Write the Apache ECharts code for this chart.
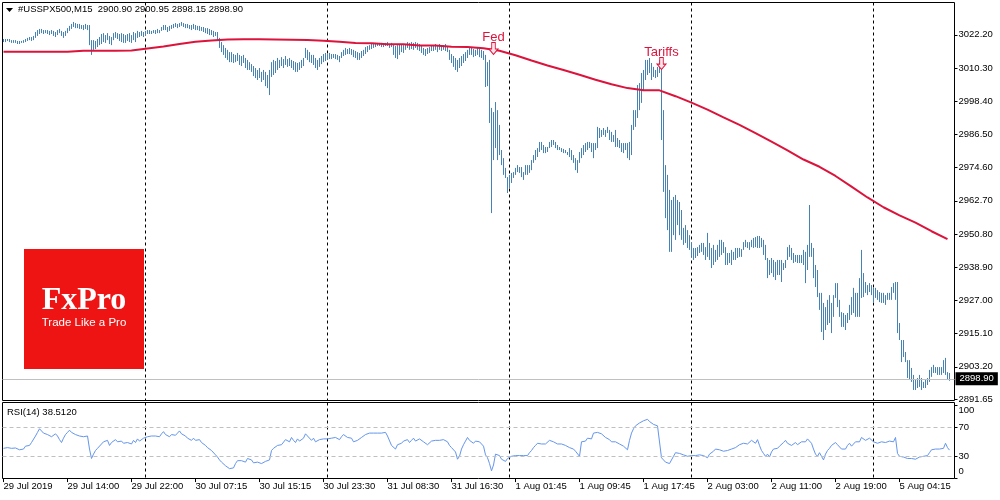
<!DOCTYPE html>
<html>
<head>
<meta charset="utf-8">
<title>#USSPX500,M15</title>
<script src="https://cdn.jsdelivr.net/npm/echarts/dist/echarts.min.js"></script>
<style>
    html, body { margin: 0; padding: 0; background: #fff; }
    #main { width: 1000px; height: 500px; }
</style>
</head>
<body>
<div id="main"></div>
<script>
// M15 bars, 29 Jul 2019 -> 5 Aug 2019 (high / low of each bar)
var highs = [
    3020.7,3020.7,3020.7,3020.7,3020.3,3020.3,3020.3,3020.0,3020.0,3020.0,
    3020.3,3020.7,3021.1,3021.4,3021.4,3021.8,3023.2,3023.9,3024.3,3024.3,
    3023.9,3023.9,3023.9,3023.6,3023.9,3023.6,3023.2,3023.9,3024.3,3023.6,
    3023.2,3023.6,3024.6,3025.4,3026.1,3026.8,3026.4,3026.1,3026.1,3025.7,
    3025.7,3026.1,3025.7,3025.7,3020.3,3020.3,3020.0,3020.7,3021.4,3022.5,
    3022.8,3022.1,3022.8,3021.8,3021.4,3022.8,3023.2,3022.8,3022.5,3022.8,
    3022.5,3022.1,3022.5,3022.8,3022.1,3023.2,3022.8,3023.6,3023.2,3023.6,
    3023.2,3023.6,3023.9,3023.9,3023.6,3023.9,3023.9,3024.3,3023.9,3025.0,
    3025.7,3025.7,3025.0,3025.4,3025.7,3026.1,3026.4,3026.1,3026.4,3026.8,
    3026.4,3026.1,3026.1,3025.7,3025.7,3026.1,3025.7,3025.4,3025.4,3025.0,
    3025.0,3024.6,3024.6,3024.3,3023.9,3023.6,3023.2,3023.2,3021.1,3019.6,
    3018.5,3017.5,3016.8,3016.0,3016.0,3015.3,3015.0,3015.7,3015.0,3014.6,
    3015.0,3013.9,3013.2,3012.4,3011.7,3011.0,3010.3,3009.6,3010.3,3008.9,
    3009.6,3008.9,3007.8,3009.6,3012.4,3013.2,3012.8,3013.9,3013.2,3014.2,
    3013.5,3014.6,3013.5,3013.9,3013.2,3012.8,3012.4,3012.1,3012.4,3013.2,
    3013.9,3017.5,3016.8,3016.0,3015.0,3015.0,3013.9,3013.2,3013.9,3014.6,
    3015.3,3015.7,3015.3,3015.7,3015.3,3015.3,3015.3,3015.0,3014.6,3016.0,
    3016.8,3017.5,3017.1,3017.5,3017.1,3016.8,3016.4,3016.0,3015.7,3016.4,
    3016.8,3017.8,3018.2,3018.5,3018.9,3019.3,3019.3,3019.3,3019.3,3019.3,
    3018.9,3019.3,3019.6,3018.9,3019.3,3018.9,3018.2,3018.5,3018.9,3018.9,
    3018.5,3018.9,3019.6,3019.3,3019.6,3019.3,3019.6,3019.3,3018.9,3018.2,
    3017.5,3017.1,3017.5,3017.8,3018.5,3018.5,3018.9,3018.5,3018.9,3018.5,
    3018.5,3018.9,3018.2,3016.8,3015.3,3014.6,3013.9,3013.2,3013.9,3014.6,
    3015.3,3016.0,3016.8,3017.8,3017.5,3017.1,3016.8,3017.5,3017.1,3016.8,
    3016.4,3015.0,3012.4,3013.2,2996.0,2994.5,2998.1,2995.2,2989.9,2980.9,
    2978.0,2974.5,2971.2,2972.0,2972.7,2973.0,2974.5,2975.5,2974.8,2974.8,
    2973.0,2975.5,2975.5,2975.5,2977.3,2979.1,2980.9,2981.6,2983.8,2983.8,
    2982.7,2982.0,2982.0,2983.8,2984.5,2984.5,2983.8,2982.7,2982.0,2981.6,
    2981.3,2980.9,2980.2,2981.6,2980.9,2979.1,2978.0,2977.3,2980.2,2981.6,
    2982.7,2983.4,2983.8,2983.8,2983.4,2983.4,2983.4,2989.2,2988.8,2988.1,
    2988.8,2988.1,2989.2,2988.1,2987.4,2986.3,2988.1,2985.2,2984.5,2983.4,
    2983.4,2983.4,2983.4,2983.8,2989.9,2995.2,2995.2,3004.2,3004.9,3008.5,
    3009.6,3013.2,3013.2,3013.9,3012.1,3010.7,3009.6,3010.7,3013.2,3010.7,
    2995.2,2975.5,2972.0,2966.6,2963.0,2964.1,2964.8,2963.0,2962.3,2959.4,
    2953.0,2954.0,2952.2,2950.4,2947.6,2945.8,2945.8,2946.1,2946.9,2947.6,
    2947.6,2946.1,2951.2,2947.6,2945.8,2946.9,2945.1,2946.9,2948.7,2948.7,
    2947.9,2946.1,2944.0,2944.0,2945.1,2944.4,2945.8,2945.8,2945.8,2945.4,
    2947.9,2948.7,2947.9,2947.9,2948.7,2949.4,2949.7,2950.1,2950.1,2949.4,
    2948.7,2946.9,2942.2,2941.5,2942.2,2941.5,2940.8,2941.5,2941.5,2941.5,
    2940.4,2941.5,2946.1,2946.9,2945.8,2944.0,2943.3,2943.3,2943.3,2943.3,
    2945.1,2944.4,2946.9,2961.2,2947.6,2945.8,2939.7,2937.9,2929.7,2929.7,
    2926.1,2924.6,2927.2,2928.9,2926.1,2928.9,2933.2,2933.2,2927.2,2922.8,
    2922.5,2921.8,2922.5,2925.4,2928.2,2931.5,2929.7,2929.7,2935.0,2945.1,
    2936.8,2933.6,2932.5,2933.2,2932.5,2931.5,2931.5,2930.7,2930.0,2929.7,
    2929.7,2928.9,2929.7,2929.7,2931.8,2933.2,2933.6,2933.6,2918.9,2912.8,
    2912.8,2908.5,2905.6,2905.6,2902.8,2900.3,2898.5,2899.2,2900.3,2899.2,
    2897.8,2898.5,2899.2,2902.1,2903.1,2903.9,2903.1,2903.1,2903.1,2903.1,
    2905.6,2906.4,2901.3,2901.0
];
var lows = [
    3019.6,3019.6,3020.0,3019.6,3019.3,3019.3,3019.3,3018.9,3018.9,3019.3,
    3019.3,3019.6,3020.0,3020.3,3020.0,3020.3,3021.1,3021.8,3022.5,3022.8,
    3022.5,3022.8,3022.5,3022.1,3022.5,3021.8,3021.4,3022.1,3022.8,3021.8,
    3021.1,3021.8,3022.8,3023.6,3024.3,3025.0,3024.6,3024.6,3024.3,3024.3,
    3023.9,3024.3,3023.9,3018.5,3015.0,3016.8,3017.1,3017.8,3018.5,3018.9,
    3019.6,3019.3,3020.3,3018.9,3018.5,3020.3,3021.1,3020.7,3020.0,3019.6,
    3019.3,3019.3,3020.0,3019.6,3019.3,3020.3,3019.6,3021.1,3021.4,3021.8,
    3021.4,3022.1,3022.5,3022.5,3022.5,3022.8,3022.5,3022.8,3022.8,3023.6,
    3023.9,3023.9,3023.2,3023.6,3024.3,3024.6,3025.0,3024.6,3025.0,3025.4,
    3025.0,3024.6,3024.6,3024.3,3023.9,3024.3,3023.9,3023.9,3023.6,3023.6,
    3023.2,3022.8,3022.5,3022.1,3022.1,3021.4,3021.8,3020.3,3017.5,3016.0,
    3015.0,3013.9,3013.2,3012.4,3012.4,3012.1,3012.4,3012.8,3011.4,3011.0,
    3012.1,3010.3,3009.6,3009.6,3008.9,3007.4,3006.7,3006.0,3006.7,3005.3,
    3006.0,3003.8,3003.1,3000.6,3007.1,3007.8,3008.5,3009.6,3010.3,3011.0,
    3010.3,3011.4,3010.7,3011.0,3010.3,3009.6,3008.9,3008.9,3009.6,3010.3,
    3011.0,3013.9,3013.2,3012.4,3012.1,3011.4,3010.3,3009.6,3010.7,3011.7,
    3012.4,3012.8,3013.2,3013.5,3013.5,3013.9,3013.5,3013.2,3012.4,3013.9,
    3014.6,3015.0,3015.3,3015.3,3015.0,3014.2,3013.9,3013.2,3013.2,3013.9,
    3014.6,3015.3,3016.0,3016.8,3017.1,3017.5,3017.8,3018.2,3018.2,3017.8,
    3017.8,3018.2,3018.2,3017.5,3017.8,3015.0,3013.9,3013.5,3015.0,3016.0,
    3015.7,3016.8,3017.5,3016.8,3017.1,3016.8,3017.5,3016.8,3016.4,3015.7,
    3015.0,3014.6,3015.3,3015.7,3016.4,3016.4,3016.8,3016.0,3016.8,3016.4,
    3016.8,3016.4,3016.0,3013.2,3012.1,3010.7,3009.6,3008.9,3010.3,3011.0,
    3012.1,3012.8,3013.9,3015.0,3015.0,3014.2,3014.6,3015.0,3014.2,3013.9,
    3013.2,3003.5,3003.8,2990.6,2958.3,2977.3,2981.6,2977.3,2979.1,2975.5,
    2972.0,2970.9,2965.5,2967.3,2969.1,2970.9,2972.0,2973.0,2972.7,2971.2,
    2970.2,2972.0,2972.0,2972.7,2973.7,2976.3,2977.3,2978.4,2980.2,2980.9,
    2979.8,2979.8,2980.2,2981.6,2982.0,2982.7,2981.6,2980.9,2980.9,2980.2,
    2979.8,2979.8,2979.1,2978.4,2977.3,2976.3,2973.7,2972.7,2976.3,2978.0,
    2979.1,2980.2,2980.9,2981.6,2980.2,2978.0,2980.9,2981.6,2985.2,2985.6,
    2986.3,2985.6,2987.0,2984.5,2983.8,2983.8,2982.0,2982.0,2981.6,2980.2,
    2979.8,2980.9,2978.0,2977.3,2979.1,2988.1,2989.2,2992.4,2995.2,2997.8,
    3002.4,3006.0,3007.8,3008.5,3006.0,3007.1,3006.7,3007.1,3008.5,2984.5,
    2965.9,2956.5,2952.2,2944.4,2944.4,2950.4,2948.7,2954.0,2950.4,2948.7,
    2946.9,2947.6,2945.8,2945.1,2942.6,2941.5,2942.2,2942.9,2944.0,2944.4,
    2943.3,2941.5,2942.6,2941.5,2938.6,2939.7,2940.8,2941.5,2942.6,2943.3,
    2944.0,2939.7,2939.7,2940.4,2939.7,2941.5,2941.5,2942.2,2942.6,2942.6,
    2945.1,2946.1,2945.8,2945.1,2946.1,2945.8,2946.1,2945.8,2945.8,2946.1,
    2943.3,2941.5,2935.0,2936.1,2936.8,2935.4,2934.3,2936.1,2936.1,2933.6,
    2937.9,2938.6,2941.5,2942.6,2941.5,2940.4,2940.8,2940.4,2940.4,2940.4,
    2939.7,2933.2,2937.9,2942.6,2942.6,2935.0,2931.8,2928.2,2923.6,2915.7,
    2912.8,2916.4,2918.2,2918.9,2915.3,2921.1,2927.9,2924.6,2921.1,2917.5,
    2917.5,2916.4,2918.9,2920.0,2921.8,2922.5,2921.1,2921.1,2921.1,2927.9,
    2928.2,2929.7,2928.9,2930.0,2928.9,2926.1,2927.9,2927.2,2926.4,2926.1,
    2926.1,2925.4,2927.2,2927.2,2927.2,2929.7,2927.2,2915.3,2912.8,2904.9,
    2906.7,2904.9,2899.2,2898.5,2897.8,2894.9,2894.9,2895.6,2896.0,2894.9,
    2895.6,2895.6,2896.7,2897.8,2899.6,2901.0,2901.0,2900.3,2900.3,2900.3,
    2901.0,2900.3,2898.5,2898.2
];
// moving average, read every 8th bar
var maStep = 8;
var maValues = [
    3016.1,3016.1,3016.1,3016.1,3016.1,3016.5,3016.5,3016.5,3016.6,3017.3,
    3018.0,3018.9,3019.7,3020.2,3020.5,3020.6,3020.6,3020.5,3020.4,3020.3,
    3020.1,3019.7,3019.3,3019.2,3018.8,3018.8,3018.4,3018.4,3017.9,3017.8,
    3017.4,3016.5,3014.9,3013.0,3011.2,3009.6,3007.9,3006.1,3004.5,3003.1,
    3002.3,3002.3,3000.2,2997.9,2995.4,2992.6,2989.9,2987.0,2983.9,2980.8,
    2977.5,2974.9,2971.6,2967.8,2963.9,2960.4,2957.5,2954.9,2951.8,2949.0
];
// RSI(14)
var rsiValues = [
    41,41.5,42,41.5,41,41,41.5,39.5,39,39.5,
    40,44,46,45,49,51,58,63,68,66,
    62,64,60,61,57,59,61,58,53,49,
    55,60,63,66,63,61,60,62,58,60,
    57,59,58,40,27,33,38,41,43,47,
    50,48,52,45,49,51,53,50,49,51,
    48,50,49,51,47,52,49,54,51,52,
    55,57,57,57,58,57,58,58,57,61,
    64,60,59,57,60,62,59,62,65,61,
    60,58,55,54,52,55,52,51,53,49,
    47,45,42,40,38,36,32,29,25,22,
    20,17,15,13,12,14,20,24,25,24,
    26,22,27,28,25,21,19,22,24,20,
    22,23,21,25,38,41,43,45,44,46,
    48,53,55,50,56,52,49,54,51,50,
    55,61,58,56,52,55,50,48,53,51,
    54,53,54,55,55,54,56,55,53,57,
    60,58,56,57,55,50,48,52,54,56,
    58,60,61,62,62,62,63,62,61,62,
    60,63,58,56,45,43,40,46,46,48,
    51,50,53,49,52,55,51,53,54,52,
    50,48,46,48,51,53,52,53,52,53,
    53,51,50,45,42,40,36,26,30,40,
    46,51,56,52,50,48,51,49,50,47,
    44,32,28,20,10,18,33,35,31,26,
    24,23,27,25,30,31,31,32,31,31,
    31,30,31,35,38,42,45,48,49,47,
    47,47,49,52,52,50,48,47,46,47,
    46,45,45,42,40,40,37,35,30,50,
    52,51,55,53,54,62,61,63,64,61,
    59,56,54,53,50,51,50,48,47,45,
    44,42,39,52,62,68,72,74,76,78,
    79,80,81,78,76,74,73,72,70,28,
    25,22,24,20,18,30,35,33,34,32,
    32,30,30,31,31,30,31,31,32,32,
    31,29,28,33,35,37,40,42,39,37,
    37,37,38,39,40,42,42,44,46,47,
    48,50,47,49,52,50,48,53,45,38,
    34,30,33,29,36,40,38,41,44,46,
    49,52,48,46,45,47,49,46,48,50,
    52,50,54,53,48,40,33,30,35,30,
    25,33,38,41,45,47,49,46,44,40,
    42,40,45,48,44,46,50,52,50,56,
    54,52,53,55,54,50,49,48,49,50,
    48,49,50,51,52,50,56,34,30,32,
    29,28,27,26,27,25,26,28,29,30,
    30,30,31,35,39,40,40,40,40,41,
    41,48,42,38.5
];
var xLabels = ['29 Jul 2019','29 Jul 14:00','29 Jul 22:00','30 Jul 07:15','30 Jul 15:15',
    '30 Jul 23:30','31 Jul 08:30','31 Jul 16:30','1 Aug 01:45','1 Aug 09:45',
    '1 Aug 17:45','2 Aug 03:00','2 Aug 11:00','2 Aug 19:00','5 Aug 04:15'];
var labelStep = 32;
var priceTicks = [3022.20,3010.30,2998.40,2986.50,2974.60,2962.70,2950.80,2938.90,2927.00,2915.10,2903.20,2891.65];
var rsiTicks = [0,30,70,100];
var rsiLevels = [70,30];
var daySepBars = [71,162,253,344,435];
var eventNames = ['Fed','Tariffs'];
var eventBars = [245,329];
var eventPrices = [3017.3,3011.9];
var lastPrice = 2898.90;

var FONT = 'Liberation Sans';

var cats = [];
for (var i = 0; i < highs.length + 2; i++) cats.push(String(i));
var barData = highs.map(function (h, i) { return [i, h, lows[i]]; });
var maData = maValues.map(function (v, k) { return [k * maStep, v]; });
var sepData = daySepBars.map(function (b) { return [b]; });

function sepRender(params, api) {
    var cs = params.coordSys;
    var pt = api.coord([api.value(0), 0]);
    var x = Math.floor(pt[0]) + 0.5;
    return {
        type: 'line',
        shape: { x1: x, y1: cs.y, x2: x, y2: cs.y + cs.height },
        style: { stroke: '#000', lineWidth: 1, lineDash: [3, 3] }
    };
}

var chart = echarts.init(document.getElementById('main'));
chart.setOption({
    animation: false,
    backgroundColor: '#fff',
    grid: [
        { left: 2.5, top: 2.5, width: 952, height: 398, show: true, borderColor: '#000', borderWidth: 1 },
        { left: 2.5, top: 402.5, width: 952, height: 76, show: true, borderColor: '#000', borderWidth: 1 }
    ],
    xAxis: [
        { type: 'category', gridIndex: 0, data: cats, boundaryGap: true, show: false },
        {
            type: 'category', gridIndex: 1, data: cats, boundaryGap: true,
            axisLine: { show: false },
            axisTick: { show: true, interval: labelStep - 1, alignWithLabel: true, length: 4, lineStyle: { color: '#000' } },
            axisLabel: {
                interval: labelStep - 1, align: 'left', margin: 3, color: '#000',
                fontFamily: FONT, fontSize: 9.5,
                formatter: function (v, idx) { return xLabels[idx / labelStep] || ''; }
            },
            splitLine: { show: false }
        }
    ],
    yAxis: [
        {
            type: 'value', gridIndex: 0, position: 'right', min: 2891.13, max: 3033.78,
            splitLine: { show: false }, axisLine: { show: false },
            axisTick: { show: true, length: 3, customValues: priceTicks, lineStyle: { color: '#000' } },
            axisLabel: {
                customValues: priceTicks, margin: 4, color: '#000', fontFamily: FONT, fontSize: 9.5,
                formatter: function (v) { return v.toFixed(2); }
            }
        },
        {
            type: 'value', gridIndex: 1, position: 'right', min: -0.6, max: 104.2,
            splitLine: { show: false }, axisLine: { show: false },
            axisTick: { show: true, length: 3, customValues: rsiTicks, lineStyle: { color: '#000' } },
            axisLabel: {
                customValues: rsiTicks, margin: 4, color: '#000', fontFamily: FONT, fontSize: 9.5,
                // 100 and 0 sit inside the pane, like the terminal draws them
                formatter: function (v) {
                    if (v === 100) return '{t|100}';
                    if (v === 0) return '{b|0}';
                    return String(v);
                },
                rich: {
                    t: { padding: [10, 0, 0, 0], fontFamily: FONT, fontSize: 9.5, color: '#000' },
                    b: { padding: [0, 0, 14, 0], fontFamily: FONT, fontSize: 9.5, color: '#000' }
                }
            }
        }
    ],
    series: [
        {
            name: 'bars', type: 'custom', xAxisIndex: 0, yAxisIndex: 0,
            data: barData, encode: { x: 0, y: [1, 2] }, z: 2,
            renderItem: function (params, api) {
                var i = api.value(0);
                var top = api.coord([i, api.value(1)]);
                var bot = api.coord([i, api.value(2)]);
                var x = Math.floor(top[0]) + 0.5;
                return {
                    type: 'line',
                    shape: { x1: x, y1: top[1], x2: x, y2: Math.max(bot[1], top[1] + 1) },
                    style: { stroke: '#4682B4', lineWidth: 1 }
                };
            },
            markLine: {
                silent: true, symbol: ['none', 'none'],
                lineStyle: { color: '#c0c0c0', width: 1, type: 'solid' },
                label: {
                    show: true, position: 'end', distance: 1,
                    formatter: lastPrice.toFixed(2),
                    color: '#fff', backgroundColor: '#000', padding: [2, 4, 1, 4],
                    fontFamily: FONT, fontSize: 9.5
                },
                data: [{ yAxis: lastPrice }]
            },
            markPoint: {
                silent: true,
                symbol: 'path://M3,0L7,0L7,6L10,6L5,11L0,6L3,6Z',
                symbolSize: [9, 12],
                symbolKeepAspect: false,
                itemStyle: { color: '#ffe4ea', borderColor: '#dc143c', borderWidth: 1 },
                label: {
                    show: true, position: 'top', distance: 0, offset: [0, 2], formatter: '{b}',
                    color: '#dc143c', fontFamily: FONT, fontSize: 13
                },
                data: eventNames.map(function (n, k) {
                    return { name: n, coord: [eventBars[k], eventPrices[k]] };
                })
            }
        },
        {
            name: 'MA', type: 'line', xAxisIndex: 0, yAxisIndex: 0, data: maData,
            symbol: 'none', silent: true, z: 3,
            lineStyle: { color: '#dc143c', width: 2 }
        },
        {
            name: 'daySep', type: 'custom', xAxisIndex: 0, yAxisIndex: 0,
            data: sepData, encode: { x: 0 }, renderItem: sepRender, silent: true, z: 1
        },
        {
            name: 'RSI(14)', type: 'line', xAxisIndex: 1, yAxisIndex: 1, data: rsiValues,
            symbol: 'none', silent: true, z: 3,
            lineStyle: { color: '#6495ED', width: 1 },
            markLine: {
                silent: true, symbol: ['none', 'none'], label: { show: false },
                lineStyle: { color: '#c0c0c0', width: 1, type: [4, 3] },
                data: rsiLevels.map(function (v) { return { yAxis: v }; })
            }
        },
        {
            name: 'daySepRsi', type: 'custom', xAxisIndex: 1, yAxisIndex: 1,
            data: sepData, encode: { x: 0 }, renderItem: sepRender, silent: true, z: 1
        }
    ],
    graphic: [
        { type: 'polygon', shape: { points: [[6, 8], [13, 8], [9.5, 12]] }, style: { fill: '#000' } },
        {
            type: 'text', left: 18, top: 4,
            style: { text: '#USSPX500,M15  2900.90 2900.95 2898.15 2898.90', fill: '#000', font: '9.5px "Liberation Sans"' }
        },
        {
            type: 'text', left: 7, top: 407,
            style: { text: 'RSI(14) 38.5120', fill: '#000', font: '9.5px "Liberation Sans"' }
        },
        {
            type: 'group', left: 24, top: 249,
            children: [
                { type: 'rect', shape: { x: 0, y: 0, width: 120, height: 120 }, style: { fill: '#ee1414' } },
                {
                    type: 'text', x: 60, y: 52,
                    style: { text: 'FxPro', fill: '#fff', font: 'bold 32px "Liberation Serif"', textAlign: 'center', textVerticalAlign: 'middle' }
                },
                {
                    type: 'text', x: 60, y: 74,
                    style: { text: 'Trade Like a Pro', fill: '#fff', font: '11.5px "Liberation Sans"', textAlign: 'center', textVerticalAlign: 'middle' }
                }
            ]
        }
    ]
});
</script>
</body>
</html>
